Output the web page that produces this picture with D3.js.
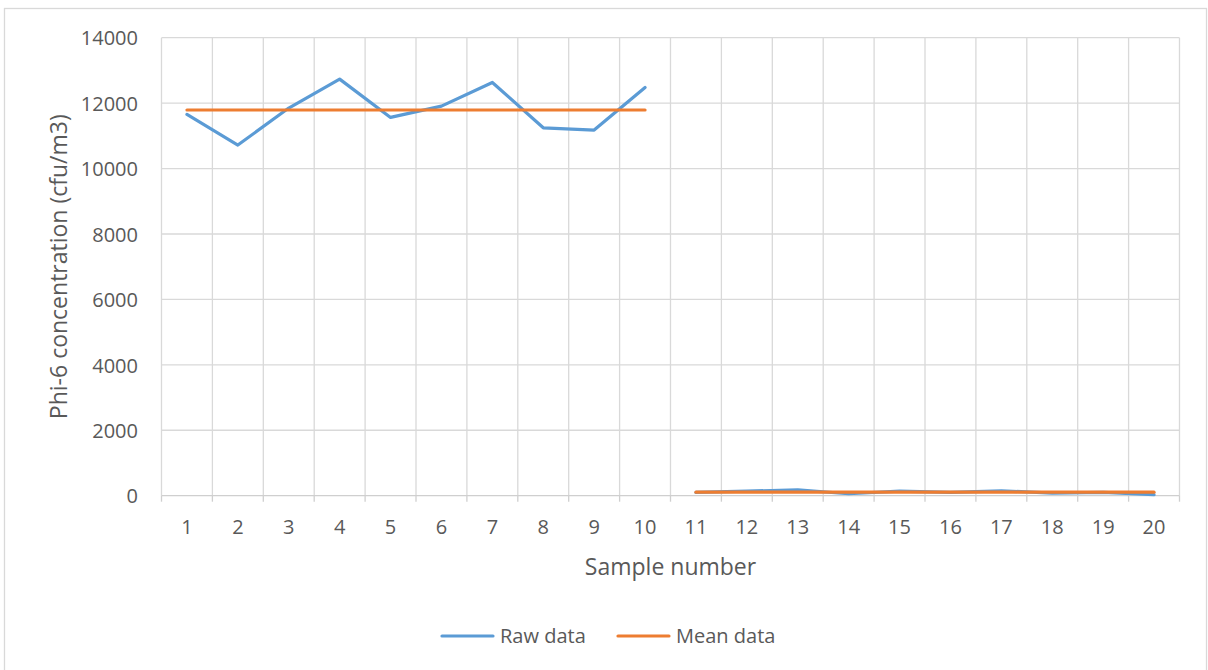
<!DOCTYPE html>
<html>
<head>
<meta charset="utf-8">
<script src="https://cdn.jsdelivr.net/npm/d3@7"></script>
<style>
  html, body { margin: 0; padding: 0; background: #fff; }
  svg { display: block; font-family: "Open Sans", "Liberation Sans", sans-serif; }
</style>
</head>
<body>
<svg id="chart" width="1208" height="670"></svg>
<script>
// Sample numbers along the category axis
const samples = ["1","2","3","4","5","6","7","8","9","10","11","12","13","14","15","16","17","18","19","20"];
// Measured Phi-6 concentration for each sample (cfu/m3)
const rawData = [11655, 10718, 11850, 12733, 11563, 11908, 12632, 11246, 11176, 12479,
                 100, 140, 180, 60, 140, 100, 150, 80, 100, 30];
// Group means (samples 1-10 and 11-20)
const meanData = [11790, 11790, 11790, 11790, 11790, 11790, 11790, 11790, 11790, 11790,
                  108, 108, 108, 108, 108, 108, 108, 108, 108, 108];
const yTicks = [0, 2000, 4000, 6000, 8000, 10000, 12000, 14000];
const seriesNames = ["Raw data", "Mean data"];
const seriesColors = ["#5B9BD5", "#ED7D31"];

const svg = d3.select("#chart");
const textColor = "#595959";
const gridColor = "#D9D9D9";

// Outer chart frame
svg.append("rect")
  .attr("x", 4.5).attr("y", 8.5)
  .attr("width", 1202).attr("height", 700)
  .attr("fill", "none").attr("stroke", gridColor).attr("stroke-width", 1.3);

const plot = { left: 161.5, right: 1179.5, top: 37.7, bottom: 495.7 };

const x = d3.scaleBand().domain(samples).range([plot.left, plot.right]).padding(0);
const y = d3.scaleLinear().domain([0, 14000]).range([plot.bottom, plot.top]);

// Horizontal gridlines
svg.append("g")
  .selectAll("line").data(yTicks.filter(d => d !== 0)).join("line")
  .attr("x1", plot.left).attr("x2", plot.right)
  .attr("y1", d => y(d)).attr("y2", d => y(d))
  .attr("stroke", gridColor).attr("stroke-width", 1.3);

// Vertical gridlines at category boundaries
const bounds = samples.map(s => x(s)).concat([plot.right]);
svg.append("g")
  .selectAll("line").data(bounds).join("line")
  .attr("x1", d => d).attr("x2", d => d)
  .attr("y1", plot.top).attr("y2", plot.bottom)
  .attr("stroke", gridColor).attr("stroke-width", 1.3);

// Category axis with boundary tick marks
const xAxisG = svg.append("g");
xAxisG.append("line")
  .attr("x1", plot.left).attr("x2", plot.right)
  .attr("y1", plot.bottom).attr("y2", plot.bottom)
  .attr("stroke", "#CFCFCF").attr("stroke-width", 1.3);
xAxisG.selectAll("line.tick").data(bounds).join("line")
  .attr("class", "tick")
  .attr("x1", d => d).attr("x2", d => d)
  .attr("y1", plot.bottom).attr("y2", plot.bottom + 6)
  .attr("stroke", "#CFCFCF").attr("stroke-width", 1.3);
xAxisG.selectAll("text").data(samples).join("text")
  .attr("x", d => x(d) + x.bandwidth() / 2)
  .attr("y", 534)
  .attr("text-anchor", "middle")
  .attr("font-size", 20)
  .attr("fill", textColor)
  .text(d => d);

// Value axis labels
const yAxis = d3.axisLeft(y).tickValues(yTicks).tickSize(0).tickPadding(0).tickFormat(d3.format("d"));
const yAxisG = svg.append("g").attr("transform", `translate(${138},0)`).call(yAxis);
yAxisG.select(".domain").remove();
yAxisG.selectAll("text")
  .attr("font-size", 20)
  .attr("font-family", "'Open Sans', sans-serif")
  .attr("fill", textColor)
  .attr("dy", "0.36em");

// Axis titles
svg.append("text")
  .attr("x", x("10") + x.bandwidth()).attr("y", 575)
  .attr("text-anchor", "middle")
  .attr("font-size", 23)
  .attr("fill", textColor)
  .text("Sample number");

svg.append("text")
  .attr("transform", `translate(58, ${(plot.top + plot.bottom) / 2}) rotate(-90)`)
  .attr("text-anchor", "middle")
  .attr("dominant-baseline", "central")
  .attr("font-size", 23)
  .attr("fill", textColor)
  .text("Phi-6 concentration (cfu/m3)");

// Series lines: each series is drawn as two segments, one per group of ten samples
const segments = [[0, 10], [10, 20]];
[rawData, meanData].forEach((vals, k) => {
  segments.forEach(([a, b]) => {
    const pts = vals.map((v, i) => ({ v, i })).slice(a, b);
    svg.append("path")
      .attr("d", d3.line()
        .x(p => x(samples[p.i]) + x.bandwidth() / 2)
        .y(p => y(p.v))(pts))
      .attr("fill", "none")
      .attr("stroke", seriesColors[k])
      .attr("stroke-width", 3.2)
      .attr("stroke-linejoin", "round")
      .attr("stroke-linecap", "round");
  });
});

// Legend
const legend = [
  { name: seriesNames[0], color: seriesColors[0], x1: 442, x2: 493, tx: 500 },
  { name: seriesNames[1], color: seriesColors[1], x1: 618, x2: 669, tx: 676 }
];
const lg = svg.append("g");
legend.forEach(d => {
  lg.append("line")
    .attr("x1", d.x1).attr("x2", d.x2).attr("y1", 636).attr("y2", 636)
    .attr("stroke", d.color).attr("stroke-width", 3.2).attr("stroke-linecap", "round");
  lg.append("text")
    .attr("x", d.tx).attr("y", 643)
    .attr("font-size", 20)
    .attr("fill", textColor)
    .text(d.name);
});
</script>
</body>
</html>
